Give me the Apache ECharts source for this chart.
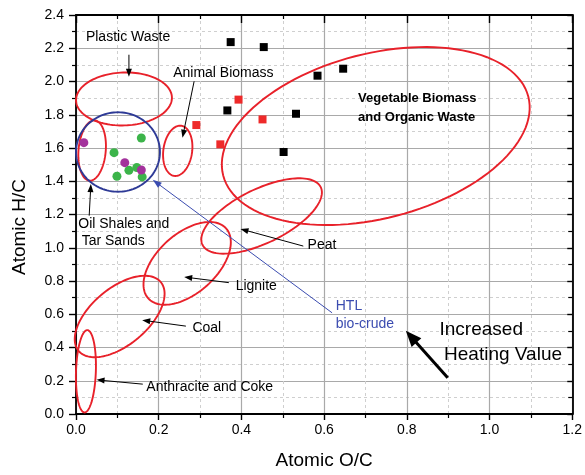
<!DOCTYPE html>
<html><head><meta charset="utf-8">
<script src="https://cdn.jsdelivr.net/npm/echarts@6/dist/echarts.min.js"></script>
<style>html,body{margin:0;padding:0;background:#fff}#c{width:585px;height:475px}</style>
</head><body><div id="c"></div>
<script>
const FONT = '"Liberation Sans", Arial, Helvetica, sans-serif';

// tick labels
const xTickLabels = ['0.0','0.2','0.4','0.6','0.8','1.0','1.2'];
const yTickLabels = ['0.0','0.2','0.4','0.6','0.8','1.0','1.2','1.4','1.6','1.8','2.0','2.2','2.4'];

// data points [O/C, H/C]
const blackSquares = [[0.374,2.237],[0.454,2.207],[0.366,1.826],[0.532,1.806],[0.502,1.576],[0.584,2.035],[0.646,2.077]];
const redSquares = [[0.291,1.738],[0.393,1.891],[0.451,1.772],[0.349,1.622]];
const greenCircles = [[0.158,1.660],[0.092,1.572],[0.099,1.430],[0.128,1.466],[0.147,1.483],[0.160,1.426]];
const purpleCircles = [[0.019,1.632],[0.118,1.512],[0.158,1.468]];

// region ellipses [centre O/C, centre H/C, semi-axis a, semi-axis b (O/C units), tilt deg]
const regionEllipses = [
  [0.116,1.895,0.116,0.064,2],    // plastic waste
  [0.039,1.585,0.0732,0.0329,85], // oil shales
  [0.246,1.583,0.0612,0.0348,82], // animal biomass
  [0.7248,1.672,0.381,0.1992,14.5],// vegetable biomass
  [0.4488,1.191,0.1591,0.0653,26],// peat
  [0.2688,0.906,0.1265,0.0718,42],// lignite
  [0.1056,0.5865,0.1296,0.0686,40],// coal
  [0.024,0.257,0.0996,0.024,88]   // anthracite
];
const htlCircle = [[0.1015,1.576,0.1015,0.096,0]];

// arrows [from O/C, from H/C, to O/C, to H/C]
const labelArrows = [
  [0.128,2.161,0.128,2.029],
  [0.2856,2.001,0.2575,1.662],
  [0.0319,1.193,0.036,1.383],
  [0.5496,1.010,0.3977,1.113],
  [0.3696,0.790,0.2616,0.824],
  [0.2657,0.5285,0.1601,0.5644],
  [0.1615,0.1796,0.0497,0.2053]
];
const htlArrow = [[0.6192,0.6087,0.1855,1.4083]];
const heatingArrow = [[0.8988,0.2185,0.7975,0.501]];

// labels
const regionLabelTexts = ['Plastic Waste','Animal Biomass','Oil Shales and','Tar Sands','Peat','Lignite','Coal','Anthracite and Coke'];
const regionLabelAnchors = [[0.024,2.265],[0.235,2.051],[0.0055,1.143],[0.0137,1.040],[0.560,1.013],[0.386,0.770],[0.2815,0.519],[0.170,0.160]];
const boldLabelTexts = ['Vegetable Biomass','and Organic Waste'];
const boldLabelAnchors = [[0.682,1.897],[0.682,1.785]];
const htlLabelTexts = ['HTL','bio-crude'];
const htlLabelAnchors = [[0.628,0.651],[0.628,0.539]];
const heatLabelTexts = ['Increased','Heating Value'];
const heatLabelAnchors = [[0.879,0.505],[0.890,0.355]];

function ellipseRender(color, lw){
  return function(params, api){
    const c = api.coord([api.value(0), api.value(1)]);
    const a = api.size([api.value(2), 0])[0];
    const b = api.size([api.value(3), 0])[0];
    const th = api.value(4) * Math.PI / 180;
    const pts = [];
    for (let i = 0; i < 120; i++) {
      const t = i / 120 * 2 * Math.PI;
      const u = a * Math.cos(t), v = b * Math.sin(t);
      pts.push([c[0] + u * Math.cos(th) - v * Math.sin(th), c[1] - u * Math.sin(th) - v * Math.cos(th)]);
    }
    return {type:'polygon', shape:{points:pts}, style:{fill:null, stroke:color, lineWidth:lw}};
  };
}
function arrowRender(color, lw, headLen, headHalf){
  return function(params, api){
    const p1 = api.coord([api.value(0), api.value(1)]);
    const p2 = api.coord([api.value(2), api.value(3)]);
    const dx = p2[0]-p1[0], dy = p2[1]-p1[1];
    const L = Math.hypot(dx, dy), ux = dx/L, uy = dy/L;
    const base = [p2[0]-ux*headLen, p2[1]-uy*headLen];
    return {type:'group', children:[
      {type:'line', shape:{x1:p1[0],y1:p1[1],x2:base[0]+ux*1,y2:base[1]+uy*1}, style:{stroke:color, lineWidth:lw}},
      {type:'polygon', shape:{points:[p2,[base[0]-uy*headHalf, base[1]+ux*headHalf],[base[0]+uy*headHalf, base[1]-ux*headHalf]]}, style:{fill:color}}
    ]};
  };
}
function labelRender(texts, color, size, weight){
  return function(params, api){
    const p = api.coord([api.value(0), api.value(1)]);
    return {type:'text', x:p[0], y:p[1], style:{text:texts[params.dataIndex], fill:color, fontSize:size, fontWeight:weight, fontFamily:FONT, align:'left', verticalAlign:'middle'}};
  };
}

const axisLineStyle = {color:'#000', width:1.8};
const chart = echarts.init(document.getElementById('c'), null, {renderer:'canvas'});
chart.setOption({
  animation:false,
  backgroundColor:'#fff',
  grid:{left:76, right:9, top:15, bottom:59, containLabel:false},
  xAxis:[{
    type:'value', min:0, max:1.2, interval:0.2, position:'bottom',
    name:'Atomic O/C', nameLocation:'middle', nameGap:37,
    nameTextStyle:{fontSize:19, fontFamily:FONT, color:'#000'},
    axisLine:{show:true, onZero:false, lineStyle:axisLineStyle},
    axisTick:{show:true, length:6, lineStyle:{color:'#000', width:1.4}},
    minorTick:{show:true, splitNumber:2, length:4, lineStyle:{color:'#000', width:1.2}},
    axisLabel:{margin:9, fontSize:14, fontFamily:FONT, color:'#000', formatter:v=>xTickLabels[Math.round(v/0.2)]},
    splitLine:{show:true, lineStyle:{color:'#a9a9a9', width:1.2}},
    minorSplitLine:{show:true, lineStyle:{color:'#cfcfcf', width:1, type:[3,3]}}
  },{
    type:'value', min:0, max:1.2, interval:0.2, position:'top',
    axisLine:{show:true, onZero:false, lineStyle:axisLineStyle},
    axisTick:{show:true, inside:true, length:8, lineStyle:{color:'#000', width:1.4}},
    minorTick:{show:true, splitNumber:2, length:4, lineStyle:{color:'#000', width:1.2}},
    axisLabel:{show:false}, splitLine:{show:false}
  }],
  yAxis:[{
    type:'value', min:0, max:2.4, interval:0.2, position:'left',
    axisLine:{show:true, onZero:false, lineStyle:axisLineStyle},
    axisTick:{show:true, length:7, lineStyle:{color:'#000', width:1.4}},
    minorTick:{show:true, splitNumber:2, length:4, lineStyle:{color:'#000', width:1.2}},
    axisLabel:{margin:12, fontSize:14, fontFamily:FONT, color:'#000', formatter:v=>yTickLabels[Math.round(v/0.2)]},
    splitLine:{show:true, lineStyle:{color:'#a9a9a9', width:1.2}},
    minorSplitLine:{show:true, lineStyle:{color:'#cfcfcf', width:1, type:[3,3]}}
  },{
    type:'value', min:0, max:2.4, interval:0.2, position:'right',
    axisLine:{show:true, onZero:false, lineStyle:axisLineStyle},
    axisTick:{show:true, inside:true, length:5, lineStyle:{color:'#000', width:1.4}},
    minorTick:{show:true, splitNumber:2, length:4, lineStyle:{color:'#000', width:1.2}},
    axisLabel:{show:false}, splitLine:{show:false}
  }],
  graphic:[{
    type:'text', x:20, y:227, rotation:Math.PI/2,
    style:{text:'Atomic H/C', fontSize:19, fontFamily:FONT, fill:'#000', align:'center', verticalAlign:'middle'}
  }],
  series:[
    {type:'custom', data:regionEllipses, renderItem:ellipseRender('#e8212a',1.9), encode:{x:0,y:1}, clip:false, z:3},
    {type:'custom', data:htlCircle, renderItem:ellipseRender('#2e3a96',1.9), encode:{x:0,y:1}, clip:false, z:3},
    {type:'custom', data:labelArrows, renderItem:arrowRender('#000',1,8,3), encode:{x:[0,2],y:[1,3]}, clip:false, z:4},
    {type:'custom', data:htlArrow, renderItem:arrowRender('#3b4cb0',1,9,3.2), encode:{x:[0,2],y:[1,3]}, clip:false, z:4},
    {type:'custom', data:heatingArrow, renderItem:arrowRender('#000',3,16,6.5), encode:{x:[0,2],y:[1,3]}, clip:false, z:4},
    {type:'scatter', data:blackSquares, symbol:'rect', symbolSize:8, itemStyle:{color:'#000', opacity:1}, z:5},
    {type:'scatter', data:redSquares, symbol:'rect', symbolSize:8, itemStyle:{color:'#ee2a2a', opacity:1}, z:5},
    {type:'scatter', data:greenCircles, symbol:'circle', symbolSize:9, itemStyle:{color:'#3cb44a', opacity:1}, z:5},
    {type:'scatter', data:purpleCircles, symbol:'circle', symbolSize:9, itemStyle:{color:'#a3329c', opacity:1}, z:6},
    {type:'custom', data:regionLabelAnchors, renderItem:labelRender(regionLabelTexts,'#000',14,'normal'), encode:{x:0,y:1}, clip:false, z:7},
    {type:'custom', data:boldLabelAnchors, renderItem:labelRender(boldLabelTexts,'#000',13,'bold'), encode:{x:0,y:1}, clip:false, z:7},
    {type:'custom', data:htlLabelAnchors, renderItem:labelRender(htlLabelTexts,'#3b4cb0',14,'normal'), encode:{x:0,y:1}, clip:false, z:7},
    {type:'custom', data:heatLabelAnchors, renderItem:labelRender(heatLabelTexts,'#000',19,'normal'), encode:{x:0,y:1}, clip:false, z:7}
  ]
});
</script></body></html>
